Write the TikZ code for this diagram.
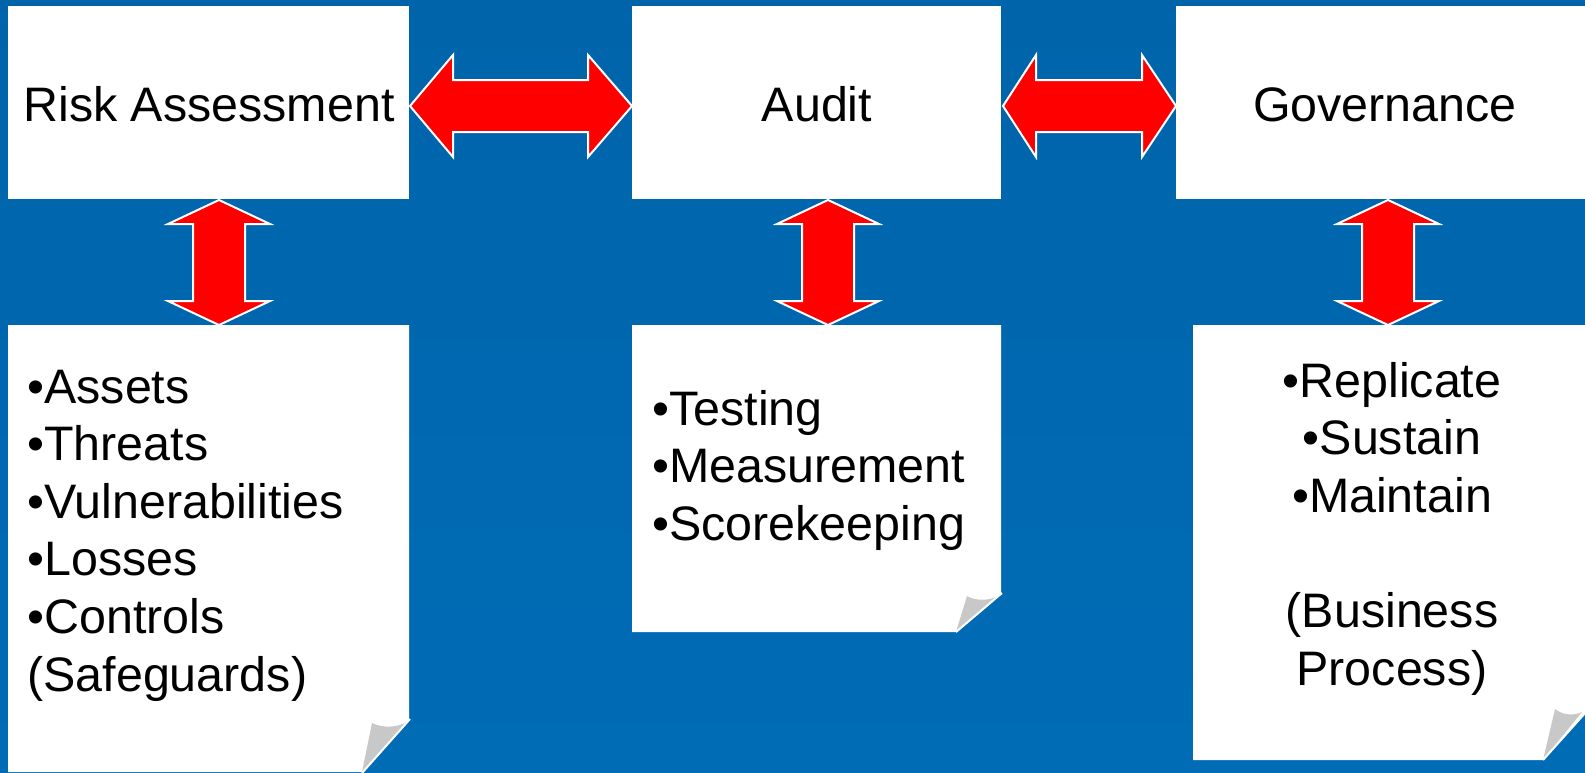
\documentclass[tikz,border=0pt]{standalone}
\usepackage{fontspec}
\setmainfont{Liberation Sans}
\definecolor{bgtop}{RGB}{0,100,170}
\definecolor{bgbot}{RGB}{0,108,182}
\definecolor{curlgrey}{RGB}{200,200,200}
\begin{document}
\begin{tikzpicture}[x=0.5pt,y=-0.5pt,
  box/.style={fill=white},
  arr/.style={fill=red, draw=white, line width=1pt, line join=miter},
  curl/.style={fill=curlgrey},
  foldline/.style={draw=white, line width=1pt},
  txt/.style={font=\fontsize{24.2}{29}\selectfont, inner sep=0pt, text=black}]
\shade[top color=bgtop, bottom color=bgbot] (0,0) rectangle (1585,772);
\useasboundingbox (0,0) rectangle (1585,772);

% top boxes
\fill[box] (8,6) rectangle (409,199);
\fill[box] (632,6) rectangle (1001,199);
\fill[box] (1176,6) rectangle (1585,199);

% bottom boxes with folded corners
\fill[box] (8,325) -- (409,325) -- (409,720) -- (362,772) -- (8,772) -- cycle;
\fill[curl] (407,722) .. controls (396,728) and (382,728) .. (372,723) -- (362,772) -- cycle;
\draw[foldline] (410,719) -- (362,773);

\fill[box] (632,325) -- (1001,325) -- (1001,594) -- (956,632) -- (632,632) -- cycle;
\fill[curl] (998,596) .. controls (989,601) and (975,601) .. (967,596) -- (956,632) -- cycle;
\draw[foldline] (1002,593) -- (956,632);

\fill[box] (1193,325) -- (1585,325) -- (1585,713) -- (1543,760) -- (1193,760) -- cycle;
\fill[curl] (1582,712) .. controls (1574,716) and (1562,715) .. (1555,709) -- (1543,760) -- cycle;
\draw[foldline] (1586,712) -- (1543,760);

% horizontal double arrows
\draw[arr] (410,106) -- (453,55) -- (453,80) -- (588,80) -- (588,55) -- (632,106)
  -- (588,157) -- (588,132) -- (453,132) -- (453,157) -- cycle;
\draw[arr] (1003,106) -- (1036,55) -- (1036,80) -- (1142,80) -- (1142,55) -- (1176,106)
  -- (1142,157) -- (1142,132) -- (1036,132) -- (1036,157) -- cycle;

% vertical double arrows
\foreach \cx in {219,828,1388}{
  \draw[arr] (\cx,200) -- (\cx+51,224) -- (\cx+26,224) -- (\cx+26,301) -- (\cx+51,301)
    -- (\cx,325) -- (\cx-51,301) -- (\cx-26,301) -- (\cx-26,224) -- (\cx-51,224) -- cycle;
}

% titles
\node[txt, anchor=base] (ra) at (209,121) {Risk Assessment};
\node[txt, anchor=base] (au) at (817,121) {Audit};
\node[txt, anchor=base] (gv) at (1385,121) {Governance};

% left list
\foreach \t [count=\i from 0] in {{•Assets},{•Threats},{•Vulnerabilities},{•Losses},{•Controls},{(Safeguards)}}{
  \node[txt, anchor=base west] (ral\i) at (27,403+57.6*\i) {\t};
}
% middle list
\foreach \t [count=\i from 0] in {{•Testing},{•Measurement},{•Scorekeeping}}{
  \node[txt, anchor=base west] (aul\i) at (652,425+57.6*\i) {\t};
}
% right list
\foreach \t/\k [count=\i from 0] in {{•Replicate}/0,{•Sustain}/1,{•Maintain}/2,{(Business}/4,{Process)}/5}{
  \node[txt, anchor=base] (gvl\i) at (1392,397+57.6*\k) {\t};
}
\end{tikzpicture}
\end{document}
